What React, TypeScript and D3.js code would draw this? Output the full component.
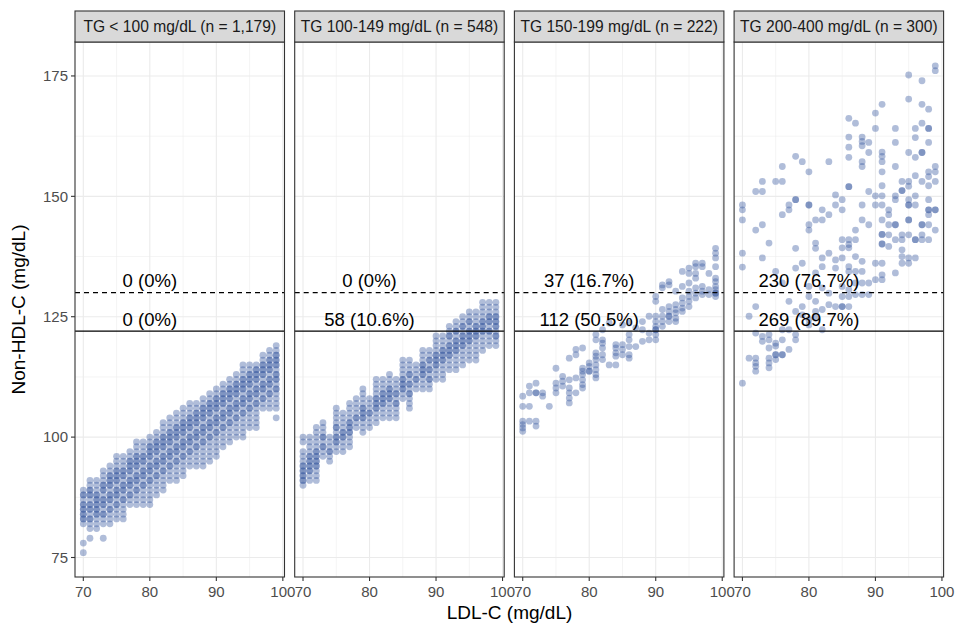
import React from 'react';
import * as d3 from 'd3';

// facet labels and the two cut-off annotations
const strips = [
  'TG < 100 mg/dL (n = 1,179)',
  'TG 100-149 mg/dL (n = 548)',
  'TG 150-199 mg/dL (n = 222)',
  'TG 200-400 mg/dL (n = 300)',
];
const upperLabels = ['0 (0%)', '0 (0%)', '37 (16.7%)', '230 (76.7%)'];
const lowerLabels = ['0 (0%)', '58 (10.6%)', '112 (50.5%)', '269 (89.7%)'];
const dashedCut = 130;
const solidCut = 122;
const labelAt = 80;

const xTicks = [70, 80, 90, 100];
const xMinor = [75, 85, 95];
const yTicks = [75, 100, 125, 150, 175];
const yMinor = [87.5, 112.5, 137.5, 162.5];

// "LDL: non-HDL values" read per column (repeats = darker spots)
const tg1 = [
  '70: 76 78 82 83 84 85 86 87 88 89 83 86 88 84 85',
  '71: 79 81 82 83 84 85 86 87 88 89 90 91 85 88 83 86 89',
  '72: 81 82 83 84 85 86 87 88 89 90 91 84 86 88 85 87',
  '73: 79 82 83 84 85 86 87 88 89 90 91 92 93 86 89 84 87 90',
  '74: 82 83 84 85 86 87 88 89 90 91 92 93 94 87 90 92 85 88 91',
  '75: 83 84 85 86 87 88 89 90 91 92 93 94 95 96 88 91 93 86 89 92',
  '76: 83 84 85 86 87 88 89 90 91 92 93 94 95 96 89 92 87 90 93',
  '77: 86 87 88 89 90 91 92 93 94 95 96 97 90 93 95 88 91 94',
  '78: 86 87 88 89 90 91 92 93 94 95 96 97 98 99 91 94 96 89 92 95',
  '79: 86 87 88 89 90 91 92 93 94 95 96 97 98 99 92 95 90 93 96',
  '80: 86 87 88 89 90 91 92 93 94 95 96 97 98 99 100 93 96 98 91 94 97',
  '81: 88 89 90 91 92 93 94 95 96 97 98 99 100 101 94 97 99 92 95 98',
  '82: 89 90 91 92 93 94 95 96 97 98 99 100 101 102 103 95 98 100 93 96 99',
  '83: 91 92 93 94 95 96 97 98 99 100 101 102 103 104 96 99 101 94 97 100',
  '84: 91 92 93 94 95 96 97 98 99 100 101 102 103 104 105 97 100 102 95 98 101',
  '85: 92 93 94 95 96 97 98 99 100 101 102 103 104 105 106 98 101 103 96 99 102',
  '86: 94 95 96 97 98 99 100 101 102 103 104 105 106 107 99 102 104 97 100 103',
  '87: 94 95 96 97 98 99 100 101 102 103 104 105 106 107 100 103 105 98 101 104',
  '88: 94 95 96 97 98 99 100 101 102 103 104 105 106 107 108 101 104 106 99 102 105',
  '89: 95 96 97 98 99 100 101 102 103 104 105 106 107 108 109 102 105 107 100 103 106',
  '90: 96 97 98 99 100 101 102 103 104 105 106 107 108 109 110 103 106 108 101 104 107',
  '91: 98 99 100 101 102 103 104 105 106 107 108 109 110 111 104 107 109 102 105 108',
  '92: 99 100 101 102 103 104 105 106 107 108 109 110 111 112 105 108 110 103 106 109',
  '93: 100 101 102 103 104 105 106 107 108 109 110 111 112 113 106 109 111 104 107 110',
  '94: 100 101 102 103 104 105 106 107 108 109 110 111 112 113 114 115 107 110 112 105 108 111',
  '95: 102 103 104 105 106 107 108 109 110 111 112 113 114 115 108 111 113 106 109 112',
  '96: 102 103 104 105 106 107 108 109 110 111 112 113 114 115 109 112 114 107 110 113',
  '97: 106 107 108 109 110 111 112 113 114 115 116 117 110 113 115 108 111 114',
  '98: 106 107 108 109 110 111 112 113 114 115 116 117 118 111 114 116 109 112 115',
  '99: 104 106 107 108 109 110 111 112 113 114 115 116 117 118 119 112 115 117 110 113 116',
];

const tg2 = [
  '70: 90 91 92 93 94 95 96 97 99 100 92 94 91 93',
  '71: 91 92 93 94 95 96 97 98 99 100 94 96 93 95',
  '72: 91 92 93 94 95 96 97 98 99 100 101 102 95 97 94 96',
  '73: 96 97 98 99 100 101 102 103 98 100',
  '74: 95 96 97 98 99 100 97',
  '75: 97 98 99 100 101 102 103 104 105 106 100 102 99',
  '76: 97 98 99 100 101 102 103 104 105 100 101',
  '77: 98 99 100 101 102 103 104 105 106 107 101 103 102',
  '78: 102 103 104 105 106 107 108 104',
  '79: 101 102 103 104 105 106 107 108 109 110 104 106 105',
  '80: 102 103 104 105 106 107 108 105',
  '81: 103 104 105 106 107 108 109 110 111 112 106 108 107',
  '82: 104 105 106 107 108 109 110 111 112 107 109 108',
  '83: 104 105 106 107 108 109 110 111 112 113 108 110 109',
  '84: 104 105 106 107 108 109 110 111 112 107 109',
  '85: 108 109 110 111 112 113 114 115 116 110 112 111',
  '86: 106 107 108 109 110 111 112 113 114 115 116 109 111 113',
  '87: 110 111 112 113 114 115 112',
  '88: 110 111 112 113 114 115 116 117 118 113 115 114',
  '89: 110 111 112 113 114 115 116 117 118 112 114 116',
  '90: 112 113 114 115 116 117 118 119 120 121 115 117 116',
  '91: 112 113 114 115 116 117 118 119 120 121 116 118 117',
  '92: 114 115 116 117 118 119 120 121 122 123 117 119 121 118',
  '93: 114 115 116 117 118 119 120 121 122 123 124 118 120 122 119',
  '94: 115 116 117 118 119 120 121 122 123 124 125 119 121 123 120',
  '95: 116 117 118 119 120 121 122 123 124 125 126 120 122 124 121',
  '96: 116 117 118 119 120 121 122 123 124 125 126 121 123 122',
  '97: 118 119 120 121 122 123 124 125 126 127 128 122 124 123',
  '98: 119 120 121 122 123 124 125 126 127 128 122 125 124',
  '99: 119 120 121 122 123 124 125 126 127 128 121 123 125 124',
];

const tg3 = [
  '70: 101.2 101.9 102.6 103.3 106.4 108.5',
  '71: 103.3 106.4 109.2 110.6',
  '72: 102.3 103.3 109.2 109.2 111.2',
  '73: 108.5 109.2',
  '74: 106.4',
  '75: 109.2 110.2 111.2 114.3',
  '76: 110.6 111.6 112.6',
  '77: 107.1 108.1 109.2 110.2 111.9 116.4',
  '78: 109.2 112.3 117.1 118.2',
  '79: 110.2 110.9 111.9 113 113.7 114.3 118.5',
  '80: 113.7 114.7 115.4 113.7',
  '81: 112.3 113 114 115 116.1 116.8 117.5 120.2 121.3',
  '82: 116.1 117.1 118.5 119.5 120.2 122.3',
  '83: 115 123.7',
  '84: 115 116.8 117.5 118.5 119.2',
  '85: 117.1 118.2 119.2 123.3',
  '86: 116.4 117.1 118.8 120.2 121.3 123.7',
  '87: 118.8 122.7',
  '88: 119.9 122.3 124',
  '89: 120.2 121.6 125.1',
  '90: 120.2 121.3 122.3 123 124 125.1 128.2 129.2 122.3',
  '91: 123 124 125.1 126.5 131 131.6',
  '92: 124 125.1 126.1 127.1 131.6 132.3 125.1',
  '93: 124 124.7 125.8 126.5 127.5 130.3',
  '94: 126.1 126.8 127.8 128.9 131.3 134.4',
  '95: 127.1 128.2 129.2 130.3 132 134 135.1',
  '96: 128.9 129.9 131 133 134 135.4 136.1',
  '97: 129.6 130.3 131.3 135.4 136.1',
  '98: 129.6 130.6 134',
  '99: 129.2 129.9 130.6 131.3 132.3 133 135.4 137.2 138.2 139.2 129.9',
];

const tg4 = [
  '70: 111.2 135.3 138.2 145.1 147.2 148.2',
  '71: 116.4 125.1',
  '72: 113.7 114.7 115.4 116.4 121.6 127.1 143 151',
  '73: 119.9 120.9 137.2 144.1 151 153.1',
  '74: 114.4 115.4 116.4 118.5 120.2 121.3 140.3',
  '75: 116.1 117.1 117.1 118.9 119.5 134.4 153.1',
  '76: 117.1 117.1 120.2 122.3 132 146.2 153.1 156.2',
  '77: 118.2 122.3 128.2 147.2 148.2',
  '78: 120.2 121.3 126.1 135.1 139.2 149.3 149.3 158.3',
  '79: 125.4 127.1 136.1 157.2',
  '80: 123.3 124.4 129.2 131.3 143 144.1 148.2 148.2 155.1',
  '81: 124.7 126.1 128.2 134.1 139.2 140.3 145.1',
  '82: 122.3 126.5 131 135.4 137.2 145.1 147.2',
  '83: 127.5 129.9 138.2 146.2 157.2',
  '84: 127.1 135.1 136.8 148.2 150.3',
  '85: 127.1 127.1 129.2 131.3 137.2 139.3 141 147.2 149.3',
  '86: 127.1 129.2 130.6 134.4 135.4 139.3 140 141 152 152 158.1 160.2 162.3 166.2',
  '87: 129.6 132 134.4 137.5 141 143 165.2',
  '88: 129.6 132 134.4 136.5 145.1 148.2 156.2 157.2 160.5 161.4 162.3',
  '89: 129.6 132 144.1 151 159.1 161.2',
  '90: 132.7 136.1 148.2 150.1 164.1 167.3',
  '91: 132.7 133.7 136.1 140.1 140.1 142.1 142.1 145.1 148.2 150.1 152.2 155.1 157.2 158.3 159.2 169.1',
  '92: 139.6 142 144.1 146.2 147.2',
  '93: 134.1 141 144.1 144.1 149.3 150.1 156.2 161.2 164.1',
  '94: 136.1 137.5 138.9 141 142 151.2 151.2 153.1',
  '95: 136.1 137.2 142 145.1 145.1 148.2 148.2 149.3 152.1 153.1 159.1 170.2 175.2',
  '96: 137.2 141 141 148.2 150.1 154.3 158.1 162.2 164.1',
  '97: 141 142 144.1 144.1 153.1 159.1 159.1 165.2 169.1 174',
  '98: 141 144.1 146.2 147.2 147.2 149.3 152.2 154.1 155.1 161.2 164.1 164.1 168.1',
  '99: 143 147.2 147.2 153.1 155.1 156.2 176.1 177.1',
];

const panels = [tg1, tg2, tg3, tg4];

const parse = (rows: string[]) =>
  rows.flatMap((r) => {
    const [ldl, vals] = r.split(':');
    return vals.trim().split(/\s+/).map((v) => ({ x: +ldl, y: +v }));
  });

const font = '"Liberation Sans", Arial, sans-serif';

const App = () => {
  const width = 957;
  const height = 629;
  const stripTop = 11;
  const top = 42;
  const bottom = 577;
  const left0 = 75;
  const panelW = 209.5;
  const gap = 10.2;

  const y = d3.scaleLinear().domain([70.95, 182.05]).range([bottom, top]);
  const xFor = (i: number) => {
    const l = left0 + i * (panelW + gap);
    return d3.scaleLinear().domain([68.75, 100.25]).range([l, l + panelW]);
  };

  return (
    <svg
      width={width}
      height={height}
      style={{ position: 'absolute', left: 0, top: 0, fontFamily: font }}
    >
      <rect width={width} height={height} fill="#fff" />
      {panels.map((rows, i) => {
        const x = xFor(i);
        const [x0, x1] = x.range();
        const pts = parse(rows);
        return (
          <g key={i}>
            {yMinor.map((t) => (
              <line key={'ym' + t} x1={x0} x2={x1} y1={y(t)} y2={y(t)} stroke="#ebebeb" strokeWidth={0.55} />
            ))}
            {xMinor.map((t) => (
              <line key={'xm' + t} x1={x(t)} x2={x(t)} y1={top} y2={bottom} stroke="#ebebeb" strokeWidth={0.55} />
            ))}
            {yTicks.map((t) => (
              <line key={'yg' + t} x1={x0} x2={x1} y1={y(t)} y2={y(t)} stroke="#ebebeb" strokeWidth={1.1} />
            ))}
            {xTicks.map((t) => (
              <line key={'xg' + t} x1={x(t)} x2={x(t)} y1={top} y2={bottom} stroke="#ebebeb" strokeWidth={1.1} />
            ))}

            {pts.map((d, j) => (
              <circle key={j} cx={x(d.x)} cy={y(d.y)} r={3.4} fill="#3a5a9f" fillOpacity={0.4} />
            ))}

            <line x1={x0} x2={x1} y1={y(dashedCut)} y2={y(dashedCut)} stroke="#000" strokeWidth={1.1} strokeDasharray="5,4" />
            <line x1={x0} x2={x1} y1={y(solidCut)} y2={y(solidCut)} stroke="#000" strokeWidth={1.1} />
            <text x={x(labelAt)} y={y(dashedCut) - 6} textAnchor="middle" fontSize={18.5} fill="#000">
              {upperLabels[i]}
            </text>
            <text x={x(labelAt)} y={y(solidCut) - 5} textAnchor="middle" fontSize={18.5} fill="#000">
              {lowerLabels[i]}
            </text>

            <rect x={x0} y={top} width={panelW} height={bottom - top} fill="none" stroke="#333" strokeWidth={1.1} />
            <rect x={x0} y={stripTop} width={panelW} height={top - stripTop} fill="#d9d9d9" stroke="#333" strokeWidth={1.1} />
            <text x={(x0 + x1) / 2} y={(stripTop + top) / 2 + 5.5} textAnchor="middle" fontSize={15.6} fill="#1a1a1a">
              {strips[i]}
            </text>

            {xTicks.map((t) => (
              <g key={'xt' + t}>
                <line x1={x(t)} x2={x(t)} y1={bottom} y2={bottom + 4} stroke="#333" strokeWidth={1.1} />
                <text x={x(t)} y={bottom + 20} textAnchor="middle" fontSize={15} fill="#4d4d4d">
                  {t}
                </text>
              </g>
            ))}
          </g>
        );
      })}

      {yTicks.map((t) => (
        <g key={'yt' + t}>
          <line x1={left0 - 4} x2={left0} y1={y(t)} y2={y(t)} stroke="#333" strokeWidth={1.1} />
          <text x={left0 - 7} y={y(t) + 5.3} textAnchor="end" fontSize={15} fill="#4d4d4d">
            {t}
          </text>
        </g>
      ))}

      <text x={509.5} y={619} textAnchor="middle" fontSize={19} fill="#000">
        LDL-C (mg/dL)
      </text>
      <text
        transform={`translate(25,${(top + bottom) / 2}) rotate(-90)`}
        textAnchor="middle"
        fontSize={19}
        fill="#000"
      >
        Non-HDL-C (mg/dL)
      </text>
    </svg>
  );
};

export default App;
